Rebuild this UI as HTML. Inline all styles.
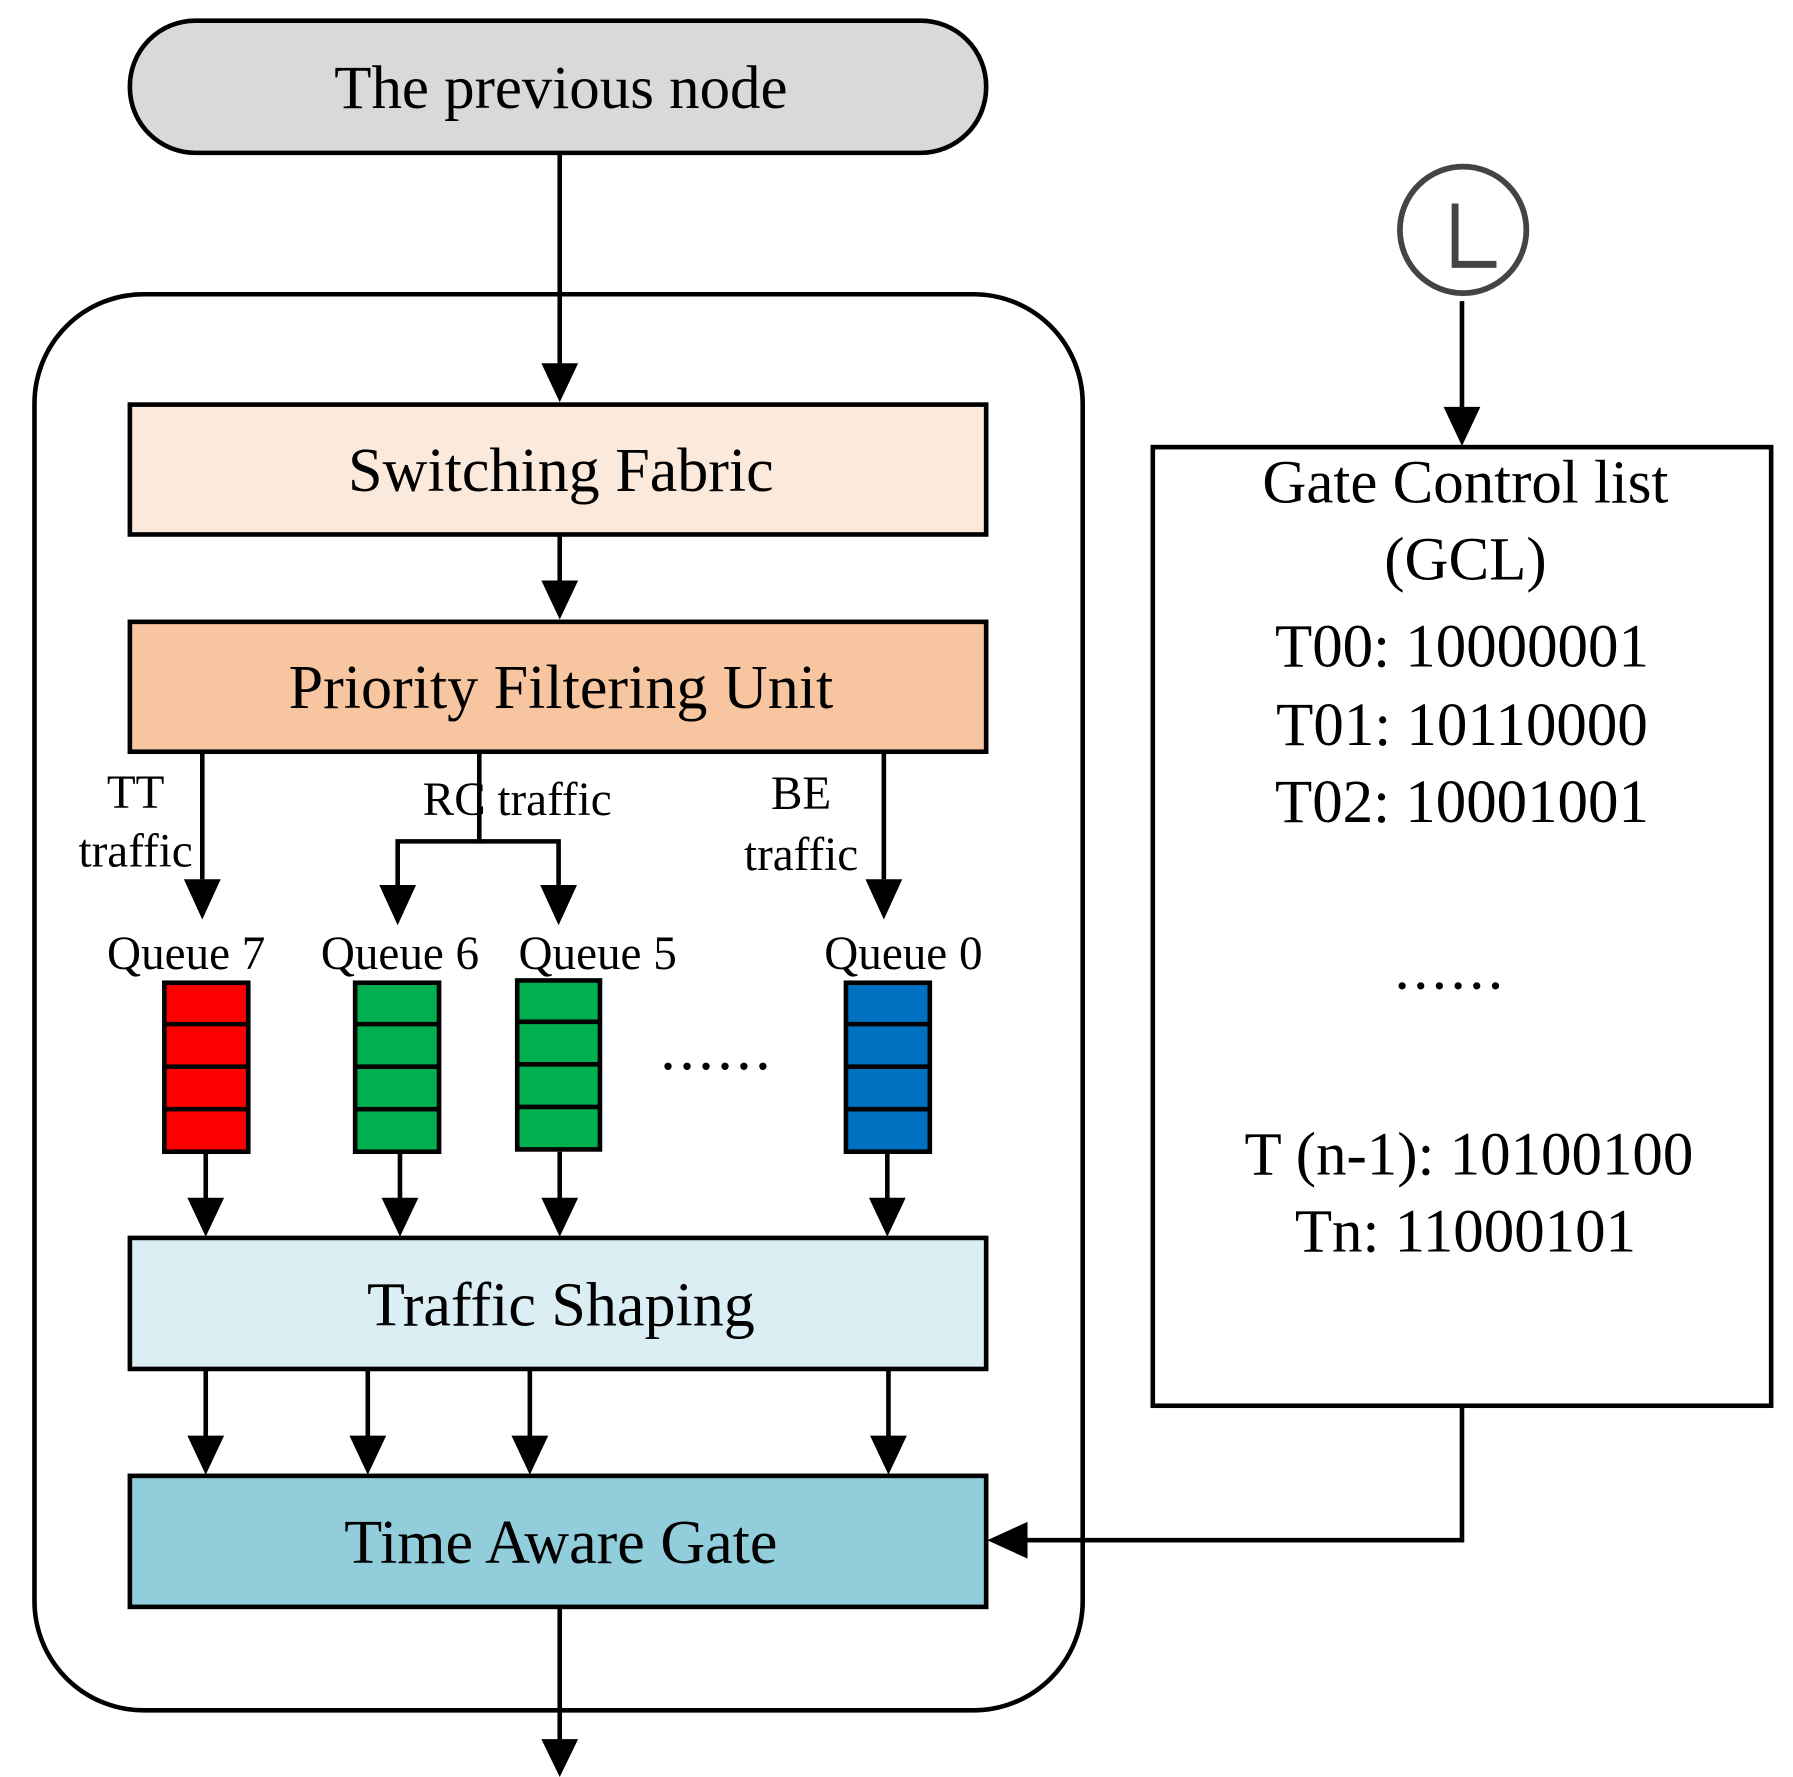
<!DOCTYPE html>
<html><head><meta charset="utf-8"><style>html,body{margin:0;padding:0;background:#fff}svg{display:block}</style></head>
<body>
<svg width="1793" height="1777" viewBox="0 0 1560 1546" preserveAspectRatio="none" xmlns="http://www.w3.org/2000/svg" font-family="'Liberation Serif', serif">
<g stroke="#000" stroke-width="4" fill="none">
<rect x="30" y="256" width="912" height="1232" rx="95"/>
</g>
<rect x="113" y="18" width="745" height="115" rx="57" fill="#d9d9d9" stroke="#000" stroke-width="4"/>
<text x="488" y="94" font-size="53" text-anchor="middle">The previous node</text>
<rect x="113" y="352" width="745" height="113" fill="#fbe9dc" stroke="#000" stroke-width="4"/>
<text x="488" y="427" font-size="54" text-anchor="middle">Switching Fabric</text>
<rect x="113" y="541" width="745" height="113" fill="#f7c59f" stroke="#000" stroke-width="4"/>
<text x="488" y="616" font-size="54" text-anchor="middle">Priority Filtering Unit</text>
<rect x="113" y="1077" width="745" height="114" fill="#dbeef4" stroke="#000" stroke-width="4"/>
<text x="488" y="1153" font-size="54" text-anchor="middle">Traffic Shaping</text>
<rect x="113" y="1284" width="745" height="114" fill="#92cddc" stroke="#000" stroke-width="4"/>
<text x="488" y="1360" font-size="54" text-anchor="middle">Time Aware Gate</text>

<g stroke="#000" stroke-width="4" fill="none">
<line x1="487" y1="133" x2="487" y2="318"/>
<line x1="487" y1="465" x2="487" y2="507"/>
<line x1="176" y1="654" x2="176" y2="765"/>
<polyline points="417,654 417,732 346,732 346,770"/>
<polyline points="417,732 486,732 486,770"/>
<line x1="769" y1="654" x2="769" y2="765"/>
<line x1="179" y1="1002" x2="179" y2="1043"/>
<line x1="348" y1="1002" x2="348" y2="1043"/>
<line x1="487" y1="1002" x2="487" y2="1043"/>
<line x1="772" y1="1002" x2="772" y2="1043"/>
<line x1="179" y1="1191" x2="179" y2="1250"/>
<line x1="320" y1="1191" x2="320" y2="1250"/>
<line x1="461" y1="1191" x2="461" y2="1250"/>
<line x1="773" y1="1191" x2="773" y2="1250"/>
<line x1="487" y1="1398" x2="487" y2="1515"/>
<line x1="1272" y1="262" x2="1272" y2="355"/>
<polyline points="1272,1223 1272,1340 892,1340"/>
</g>
<g fill="#000">
<polygon points="471,316 503,316 487,350"/>
<polygon points="471,505 503,505 487,539"/>
<polygon points="160,765 192,765 176,800"/>
<polygon points="330,770 362,770 346,805"/>
<polygon points="470,770 502,770 486,805"/>
<polygon points="753,765 785,765 769,800"/>
<polygon points="163,1042 195,1042 179,1076"/>
<polygon points="332,1042 364,1042 348,1076"/>
<polygon points="471,1042 503,1042 487,1076"/>
<polygon points="756,1042 788,1042 772,1076"/>
<polygon points="163,1249 195,1249 179,1283"/>
<polygon points="304,1249 336,1249 320,1283"/>
<polygon points="445,1249 477,1249 461,1283"/>
<polygon points="757,1249 789,1249 773,1283"/>
<polygon points="471,1513 503,1513 487,1546"/>
<polygon points="1256,354 1288,354 1272,388"/>
<polygon points="894,1324 894,1356 859,1340"/>
</g>
<g font-size="41" text-anchor="middle">
<text x="118" y="703">TT</text>
<text x="118" y="754">traffic</text>
<text x="450" y="709">RC traffic</text>
<text x="697" y="704">BE</text>
<text x="697" y="757">traffic</text>
<text x="162" y="843">Queue 7</text>
<text x="348" y="843">Queue 6</text>
<text x="520" y="843">Queue 5</text>
<text x="786" y="843">Queue 0</text>
</g>
<g stroke="#000" stroke-width="4">
<rect x="143" y="855" width="73" height="147" fill="#ff0000"/>
<line x1="143" y1="891" x2="216" y2="891"/><line x1="143" y1="928" x2="216" y2="928"/><line x1="143" y1="965" x2="216" y2="965"/>
<rect x="309" y="855" width="73" height="147" fill="#00b050"/>
<line x1="309" y1="891" x2="382" y2="891"/><line x1="309" y1="928" x2="382" y2="928"/><line x1="309" y1="965" x2="382" y2="965"/>
<rect x="450" y="853" width="72" height="147" fill="#00b050"/>
<line x1="450" y1="889" x2="522" y2="889"/><line x1="450" y1="926" x2="522" y2="926"/><line x1="450" y1="963" x2="522" y2="963"/>
<rect x="736" y="855" width="73" height="147" fill="#0070c0"/>
<line x1="736" y1="891" x2="809" y2="891"/><line x1="736" y1="928" x2="809" y2="928"/><line x1="736" y1="965" x2="809" y2="965"/>
</g>
<text x="624" y="930" font-size="54" text-anchor="middle" letter-spacing="3">......</text>
<rect x="1003" y="389" width="538" height="834" fill="#fff" stroke="#000" stroke-width="4"/>
<g font-size="53" text-anchor="middle">
<text x="1275" y="437">Gate Control list</text>
<text x="1275" y="504">(GCL)</text>
<text x="1272" y="580">T00: 10000001</text>
<text x="1272" y="648">T01: 10110000</text>
<text x="1272" y="715">T02: 10001001</text>
<text x="1262" y="860" letter-spacing="3">......</text>
<text x="1278" y="1022">T (n-1): 10100100</text>
<text x="1275" y="1089">Tn: 11000101</text>
</g>
<circle cx="1273" cy="200" r="55" fill="#fff" stroke="#444" stroke-width="5"/>
<polyline points="1266,177 1266,230 1302,230" fill="none" stroke="#444" stroke-width="6"/>
</svg>
</body></html>
